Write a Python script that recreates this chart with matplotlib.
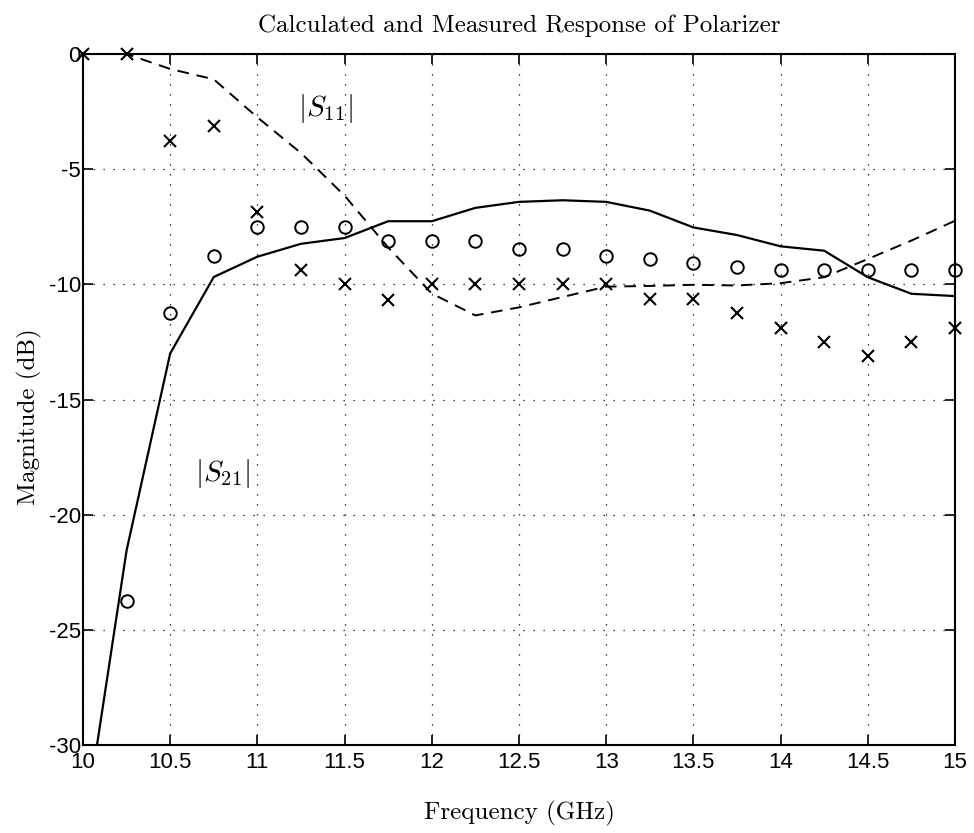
import numpy as np
import matplotlib
matplotlib.use("Agg")
import matplotlib.pyplot as plt

# ---- data ----
freq = [10.0, 10.25, 10.5, 10.75, 11.0, 11.25, 11.5, 11.75, 12.0, 12.25, 12.5,
        12.75, 13.0, 13.25, 13.5, 13.75, 14.0, 14.25, 14.5, 14.75, 15.0]
s21_calc = [-34.0, -21.55, -13.0, -9.68, -8.8, -8.24, -7.99, -7.26, -7.26, -6.68, -6.42,
            -6.35, -6.42, -6.8, -7.53, -7.86, -8.35, -8.54, -9.69, -10.41, -10.51]
s11_calc = [0.0, 0.0, -0.65, -1.1, -2.75, -4.3, -6.15, -8.4, -10.4, -11.35, -11.0,
            -10.55, -10.1, -10.07, -10.02, -10.05, -9.95, -9.69, -8.9, -8.1, -7.24]
freq_meas21 = freq[1:]
s21_meas = [-23.75, -11.26, -8.77, -7.51, -7.51, -7.51, -8.13, -8.13, -8.13, -8.45,
            -8.45, -8.77, -8.92, -9.08, -9.23, -9.37, -9.37, -9.37, -9.37, -9.37]
s11_meas = [0.0, 0.0, -3.76, -3.14, -6.86, -9.39, -10.0, -10.67, -10.0, -10.0, -10.0,
            -10.0, -10.0, -10.64, -10.64, -11.25, -11.88, -12.49, -13.1, -12.49, -11.88]
xticks = [10, 10.5, 11, 11.5, 12, 12.5, 13, 13.5, 14, 14.5, 15]
xticklabels = ["10", "10.5", "11", "11.5", "12", "12.5", "13", "13.5", "14", "14.5", "15"]
yticks = [-30, -25, -20, -15, -10, -5, 0]
yticklabels = ["-30", "-25", "-20", "-15", "-10", "-5", "0"]

plt.rcParams['mathtext.fontset'] = 'cm'
serif = 'cmr10'

fig = plt.figure(figsize=(9.74, 8.33), dpi=100)
ax = fig.add_axes([83/974, 1-745/833, (955-83)/974, (745-54)/833])

ax.plot(freq, s21_calc, color='black', lw=1.6, solid_joinstyle='miter')
ax.plot(freq, s11_calc, color='black', lw=1.4, linestyle=(0, (6, 4)))
ax.plot(freq_meas21, s21_meas, linestyle='none', marker='o', markersize=9,
        markerfacecolor='none', markeredgecolor='black', markeredgewidth=1.4, clip_on=False)
ax.plot(freq, s11_meas, linestyle='none', marker='x', markersize=9,
        markeredgecolor='black', markeredgewidth=1.5, clip_on=False)

ax.set_xlim(10, 15)
ax.set_ylim(-30, 0)
ax.set_xticks(xticks)
ax.set_xticklabels(xticklabels)
ax.set_yticks(yticks)
ax.set_yticklabels(yticklabels)
for lab in ax.get_xticklabels() + ax.get_yticklabels():
    lab.set_fontfamily('Liberation Sans')
    lab.set_fontsize(16)
ax.tick_params(direction='in', length=7, width=1.2, top=True, right=True)
ax.tick_params(axis='x', pad=5)
ax.tick_params(axis='y', pad=1.5)
for sp in ax.spines.values():
    sp.set_linewidth(1.5)

ax.grid(True, color='black', linestyle=(0, (1, 7)), linewidth=0.9)

ax.text(11.39, -2.38, r'$|S_{11}|$', fontsize=21, ha='center', va='center')
ax.text(10.80, -18.2, r'$|S_{21}|$', fontsize=21, ha='center', va='center')

ax.set_title('Calculated and Measured Response of Polarizer', fontfamily=serif,
             fontsize=18, pad=16)
ax.set_xlabel('Frequency (GHz)', fontfamily=serif, fontsize=18, labelpad=20)
ax.set_ylabel('Magnitude (dB)', fontfamily=serif, fontsize=18)
ax.yaxis.set_label_coords(-0.047, 0.475)

fig.savefig('out.png', dpi=100)
